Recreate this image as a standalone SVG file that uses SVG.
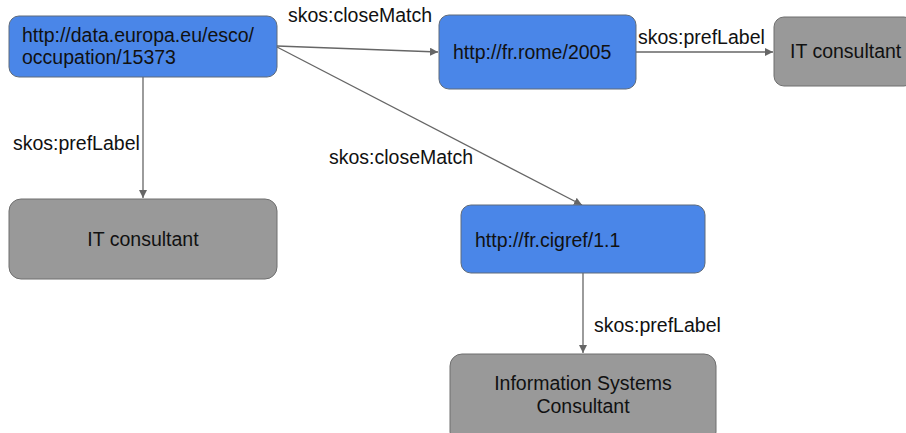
<svg xmlns="http://www.w3.org/2000/svg" width="906" height="433" viewBox="0 0 906 433">
<defs>
<style>
.blue{fill:#4a86e8;stroke:#5f6b7a;stroke-width:1}
.gray{fill:#999999;stroke:#6f6f6f;stroke-width:1}
text{font-family:"Liberation Sans",Arial,sans-serif;font-size:19.5px;fill:#111}
.edge{stroke:#666;stroke-width:1.3;fill:none;marker-end:url(#arr)}
</style>
<marker id="arr" viewBox="0 0 10 10" refX="10" refY="5" markerWidth="8" markerHeight="8" markerUnits="userSpaceOnUse" orient="auto">
<path d="M0,0 L10,5 L0,10 z" fill="#666"/>
</marker>
</defs>
<rect width="906" height="433" fill="#fff"/>
<g id="connectors">
<line class="edge" x1="277" y1="46" x2="438" y2="52"/>
<line class="edge" x1="277" y1="47" x2="582" y2="205"/>
<line class="edge" x1="143" y1="77" x2="143" y2="198"/>
<line class="edge" x1="636" y1="52" x2="773" y2="52"/>
<line class="edge" x1="583" y1="273" x2="583" y2="353"/>
<text x="288" y="22">skos:closeMatch</text>
<text x="329" y="164">skos:closeMatch</text>
<text x="13" y="150">skos:prefLabel</text>
<text x="638" y="44">skos:prefLabel</text>
<text x="594" y="332">skos:prefLabel</text>
</g>
<g id="esco">
<rect class="blue" x="9" y="16" width="268" height="61" rx="10"/>
<text x="22" y="42">http://data.europa.eu/esco/</text>
<text x="22" y="64">occupation/15373</text>
</g>
<g id="rome">
<rect class="blue" x="439" y="15" width="197" height="74" rx="10"/>
<text x="453" y="59">http://fr.rome/2005</text>
</g>
<g id="rome-label">
<rect class="gray" x="774" y="17" width="140" height="69" rx="10"/>
<text x="790" y="58">IT consultant</text>
</g>
<g id="esco-label">
<rect class="gray" x="9" y="199" width="268" height="80" rx="12"/>
<text x="143" y="246" text-anchor="middle">IT consultant</text>
</g>
<g id="cigref">
<rect class="blue" x="461" y="205" width="244" height="68" rx="10"/>
<text x="475" y="247">http://fr.cigref/1.1</text>
</g>
<g id="cigref-label">
<rect class="gray" x="450" y="354" width="266" height="90" rx="12"/>
<text x="583" y="390" text-anchor="middle">Information Systems</text>
<text x="583" y="413" text-anchor="middle">Consultant</text>
</g>
</svg>
